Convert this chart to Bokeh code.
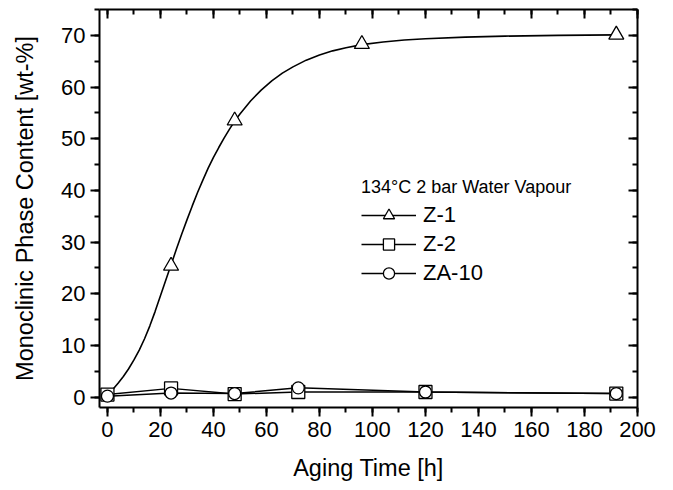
from bokeh.plotting import figure
from bokeh.models import (Range1d, LinearAxis, SingleIntervalTicker, Legend, LegendItem,
                          CustomLabelingPolicy)
from bokeh.embed import file_html
from bokeh.resources import INLINE

# ---- data ----
aging_time_z1 = [24, 48, 96, 192]
content_z1 = [25.4, 53.5, 68.3, 70.1]

# fitted curve for Z-1
fit_time_z1 = [0, 2, 4, 6, 8, 10, 12, 14, 16, 18, 20, 22, 24, 26, 28, 30, 32, 34, 36,
               38, 40, 42, 44, 46, 48, 50, 54, 58, 62, 66, 70, 75, 80, 85, 90, 96,
               104, 112, 120, 135, 150, 170, 192]
fit_content_z1 = [0.5, 1.5, 2.7, 4.0, 5.5, 7.2, 9.1, 11.3, 13.8, 16.6, 19.6, 22.6, 25.6,
                  28.6, 31.5, 34.3, 37.0, 39.6, 42.0, 44.3, 46.4, 48.3, 50.1, 51.8, 53.4,
                  54.8, 57.3, 59.4, 61.2, 62.7, 63.9, 65.2, 66.2, 67.0, 67.6, 68.2,
                  68.7, 69.1, 69.35, 69.65, 69.85, 70.0, 70.1]

aging_time = [0, 24, 48, 72, 120, 192]
content_z2 = [0.5, 1.7, 0.6, 1.0, 1.0, 0.7]
content_za10 = [0.2, 0.8, 0.7, 1.8, 1.0, 0.7]

x_label = "Aging Time [h]"
y_label = "Monoclinic Phase Content [wt-%]"
legend_title = "134°C 2 bar Water Vapour"
series_names = ["Z-1", "Z-2", "ZA-10"]

FONT = "Liberation Sans"

p = figure(width=673, height=490, output_backend="svg", toolbar_location=None,
           x_range=Range1d(-3, 200), y_range=Range1d(-2, 75),
           min_border_left=99, min_border_right=36, min_border_top=9, min_border_bottom=83,
           x_axis_label=x_label, y_axis_label=y_label)
p.outline_line_color = None
p.xgrid.grid_line_color = None
p.ygrid.grid_line_color = None
p.background_fill_color = "white"
p.border_fill_color = "white"

def style_axis(ax, ticker, outward, show_labels):
    ax.ticker = ticker
    ax.axis_line_width = 2
    ax.axis_line_color = "black"
    ax.major_tick_line_width = 2
    ax.minor_tick_line_width = 2
    ax.major_tick_line_color = "black"
    ax.minor_tick_line_color = "black"
    if outward:
        ax.major_tick_out = 9
        ax.major_tick_in = 0
        ax.minor_tick_out = 5
        ax.minor_tick_in = 0
    else:
        ax.major_tick_out = 0
        ax.major_tick_in = 9
        ax.minor_tick_out = 0
        ax.minor_tick_in = 5
    if show_labels:
        ax.major_label_text_font = FONT
        ax.major_label_text_font_size = "22px"
        ax.major_label_text_color = "black"
        ax.major_label_standoff = 5
        ax.axis_label_text_font = FONT
        ax.axis_label_text_font_size = "23.5px"
        ax.axis_label_text_font_style = "normal"
        ax.axis_label_text_color = "black"
    else:
        ax.major_label_policy = CustomLabelingPolicy(code="return []")
        ax.major_label_text_font_size = "0px"
        ax.major_label_standoff = 0

xt = lambda: SingleIntervalTicker(interval=20, num_minor_ticks=2)
yt = lambda: SingleIntervalTicker(interval=10, num_minor_ticks=2)

style_axis(p.xaxis[0], xt(), True, True)
style_axis(p.yaxis[0], yt(), True, True)
p.xaxis[0].axis_label_standoff = 15
p.yaxis[0].axis_label_standoff = 20

top = LinearAxis()
style_axis(top, xt(), False, False)
p.add_layout(top, "above")
right = LinearAxis()
style_axis(right, yt(), False, False)
p.add_layout(right, "right")

# lines
curve = p.line(fit_time_z1, fit_content_z1, line_color="black", line_width=1.6)
l2 = p.line(aging_time, content_z2, line_color="black", line_width=1.5)
l3 = p.line(aging_time, content_za10, line_color="black", line_width=1.5)

# markers
tri = p.scatter(aging_time_z1, content_z1, marker="triangle", size=15,
                fill_color="white", line_color="black", line_width=1.3)
sq = p.scatter(aging_time, content_z2, marker="square", size=13,
               fill_color="white", line_color="black", line_width=1.3)
ci = p.scatter(aging_time, content_za10, marker="circle", size=12,
               fill_color="white", line_color="black", line_width=1.3)

legend = Legend(items=[
    LegendItem(label=series_names[0], renderers=[curve, tri]),
    LegendItem(label=series_names[1], renderers=[l2, sq]),
    LegendItem(label=series_names[2], renderers=[l3, ci]),
], title=legend_title, location=(262, 120))
legend.border_line_color = None
legend.background_fill_alpha = 0
legend.padding = 0
legend.margin = 0
legend.spacing = 1
legend.glyph_width = 55
legend.glyph_height = 28
legend.label_height = 28
legend.label_standoff = 7
legend.label_text_font = FONT
legend.label_text_font_size = "22px"
legend.label_text_color = "black"
legend.title_text_font = FONT
legend.title_text_font_size = "18px"
legend.title_text_font_style = "normal"
legend.title_text_color = "black"
legend.title_standoff = 3
p.add_layout(legend)

open("out.html", "w").write(file_html(p, INLINE))
